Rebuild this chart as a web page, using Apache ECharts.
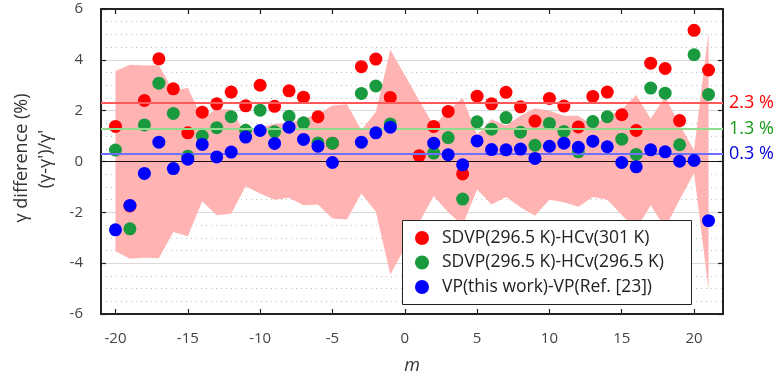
<!DOCTYPE html>
<html>
<head>
<meta charset="utf-8">
<script src="https://cdn.jsdelivr.net/npm/echarts@6/dist/echarts.min.js"></script>
<style>
html,body{margin:0;padding:0;background:#fff;}
#chart{width:777px;height:381px;}
</style>
</head>
<body>
<div id="chart"></div>
<script>
const mValues = [-20,-19,-18,-17,-16,-15,-14,-13,-12,-11,-10,-9,-8,-7,-6,-5,-4,-3,-2,-1,0,1,2,3,4,5,6,7,8,9,10,11,12,13,14,15,16,17,18,19,20,21];

const redValues = [1.38,-1.75,2.40,4.04,2.86,1.13,1.94,2.27,2.73,2.19,3.00,2.17,2.78,2.53,1.76,0.72,null,3.73,4.03,2.52,null,0.23,1.38,1.97,-0.49,2.57,2.27,2.72,2.15,1.59,2.48,2.18,1.36,2.56,2.73,1.84,1.22,3.87,3.66,1.61,5.16,3.60];

const greenValues = [0.45,-2.65,1.44,3.08,1.89,0.21,1.00,1.33,1.76,1.23,2.02,1.17,1.78,1.52,0.73,0.72,null,2.68,2.97,1.48,null,null,0.33,0.94,-1.48,1.56,1.27,1.73,1.15,0.64,1.50,1.18,0.38,1.57,1.76,0.88,0.28,2.89,2.69,0.66,4.20,2.64];

const blueValues = [-2.69,-1.73,-0.47,0.76,-0.28,0.09,0.67,0.18,0.37,0.96,1.22,0.71,1.35,0.87,0.60,-0.04,null,0.76,1.13,1.35,null,null,0.72,0.27,-0.13,0.81,0.47,0.46,0.49,0.12,0.60,0.72,0.56,0.80,0.58,-0.04,-0.21,0.46,0.38,0.01,0.04,-2.33];

const bandUpper = [3.56,3.81,3.78,3.79,2.77,2.90,1.70,2.07,2.05,1.10,1.35,1.48,1.52,1.68,1.85,2.20,2.25,1.24,1.95,4.40,3.40,2.40,1.42,2.00,2.50,1.05,1.66,1.42,1.80,2.10,2.00,1.80,1.80,1.42,1.78,2.05,2.62,1.68,2.55,1.45,0.45,5.10];

const bandLower = [-3.53,-3.83,-3.79,-3.81,-2.77,-2.94,-1.56,-2.11,-2.06,-0.97,-1.26,-1.50,-1.43,-1.72,-1.69,-2.24,-2.28,-1.26,-1.98,-4.45,-3.40,-2.40,-1.36,-2.00,-2.50,-1.10,-1.69,-1.40,-1.80,-2.13,-1.50,-1.60,-1.78,-1.40,-1.50,-2.10,-2.67,-1.72,-2.62,-1.50,-0.45,-5.05];

const meanLines = [2.3, 1.3, 0.3];
const meanLabels = ['2.3 %', '1.3 %', '0.3 %'];

const xTicks = [-20,-15,-10,-5,0,5,10,15,20];
const seriesNames = ['SDVP(296.5 K)-HCv(301 K)', 'SDVP(296.5 K)-HCv(296.5 K)', 'VP(this work)-VP(Ref. [23])'];

const FONT = 'Open Sans';
const pts = vals => mValues.map((m,i)=>vals[i]===null?null:[m, vals[i]]).filter(p=>p!==null);

const chart = echarts.init(document.getElementById('chart'), null, {renderer:'canvas'});

const axisLineStyle = {color:'#222', width:2};
const tickStyle = {color:'#222', width:1.2};

const option = {
  animation:false,
  backgroundColor:'#fff',
  grid:{left:101, right:54, top:9, bottom:67, containLabel:false},
  xAxis:[{
    type:'value', min:-21, max:22, position:'bottom',
    axisLine:{show:true, onZero:false, lineStyle:axisLineStyle},
    axisTick:{show:true, inside:true, length:5, lineStyle:tickStyle, customValues:xTicks},
    axisLabel:{show:true, fontFamily:FONT, fontSize:15, color:'#444', margin:17, customValues:xTicks},
    splitLine:{show:false},
    name:'m', nameLocation:'middle', nameGap:43,
    nameTextStyle:{fontFamily:FONT, fontSize:18, fontStyle:'italic', color:'#333'}
  },{
    type:'value', min:-21, max:22, position:'top',
    axisLine:{show:true, onZero:false, lineStyle:axisLineStyle},
    axisTick:{show:true, inside:true, length:5, lineStyle:tickStyle, customValues:xTicks},
    axisLabel:{show:false},
    splitLine:{show:false}
  }],
  yAxis:[{
    type:'value', min:-6, max:6, interval:2, position:'left',
    axisLine:{show:true, onZero:false, lineStyle:axisLineStyle},
    axisTick:{show:true, inside:true, length:5, lineStyle:tickStyle},
    axisLabel:{fontFamily:FONT, fontSize:15, color:'#444', margin:18},
    splitLine:{show:true, lineStyle:{color:'#d9d9d9', width:1}},
    minorTick:{show:false, splitNumber:4},
    minorSplitLine:{show:true, lineStyle:{color:'#bdbdbd', width:1, type:[1,4]}}
  },{
    type:'value', min:-6, max:6, interval:2, position:'right',
    axisLine:{show:true, onZero:false, lineStyle:axisLineStyle},
    axisTick:{show:true, inside:true, length:5, lineStyle:tickStyle},
    axisLabel:{show:false},
    splitLine:{show:false}
  }],
  legend:{
    data:seriesNames, orient:'vertical', left:415, top:228, padding:0,
    itemWidth:14, itemHeight:14, itemGap:4.5, icon:'circle', z:20,
    textStyle:{fontFamily:FONT, fontSize:17.5, color:'#222', lineHeight:20, padding:[0,0,0,8]}
  },
  graphic:[
    {type:'rect', z:10, shape:{x:402.5, y:220.5, width:289, height:84}, style:{fill:'#fff', stroke:'#222', lineWidth:1}},
    {type:'text', x:22, y:158, rotation:Math.PI/2, style:{text:'γ difference (%)', font:'18px "Open Sans"', fill:'#333', align:'center', verticalAlign:'middle'}},
    {type:'text', x:46, y:159, rotation:Math.PI/2, style:{text:"(γ-γ')/γ'", font:'18px "Open Sans"', fill:'#333', align:'center', verticalAlign:'middle'}}
  ],
  series:[
    {
      type:'custom', name:'band', z:1, silent:true, clip:true,
      data:[[0,0]],
      renderItem:function(params, api){
        const p = [];
        for (let i=0;i<mValues.length;i++) p.push(api.coord([mValues[i], bandUpper[i]]));
        for (let i=mValues.length-1;i>=0;i--) p.push(api.coord([mValues[i], bandLower[i]]));
        return {type:'polygon', shape:{points:p}, style:{fill:'#ffb3b3', stroke:null}};
      }
    },
    {
      type:'line', name:'lines', z:2, data:[], silent:true,
      markLine:{
        silent:true, symbol:'none', animation:false,
        label:{position:'end', fontFamily:FONT, fontSize:18, distance:6},
        data:[
          {yAxis:0, lineStyle:{color:'#111', width:1, type:'solid'}, label:{show:false}},
          {yAxis:meanLines[0], lineStyle:{color:'#ff5a5a', width:2, type:'solid'}, label:{formatter:meanLabels[0], color:'#ff0000'}},
          {yAxis:meanLines[1], lineStyle:{color:'#8fdc8f', width:2, type:'solid'}, label:{formatter:meanLabels[1], color:'#1a9a1a'}},
          {yAxis:meanLines[2], lineStyle:{color:'#6e6eff', width:2, type:'solid'}, label:{formatter:meanLabels[2], color:'#0000e0'}}
        ]
      }
    },
    {type:'scatter', name:seriesNames[0], z:3, symbolSize:13, itemStyle:{color:'#ff0000', opacity:1}, data:pts(redValues)},
    {type:'scatter', name:seriesNames[1], z:4, symbolSize:13, itemStyle:{color:'#1a9a3e', opacity:1}, data:pts(greenValues)},
    {type:'scatter', name:seriesNames[2], z:5, symbolSize:13, itemStyle:{color:'#0000ff', opacity:1}, data:pts(blueValues)}
  ]
};
chart.setOption(option);
</script>
</body>
</html>
